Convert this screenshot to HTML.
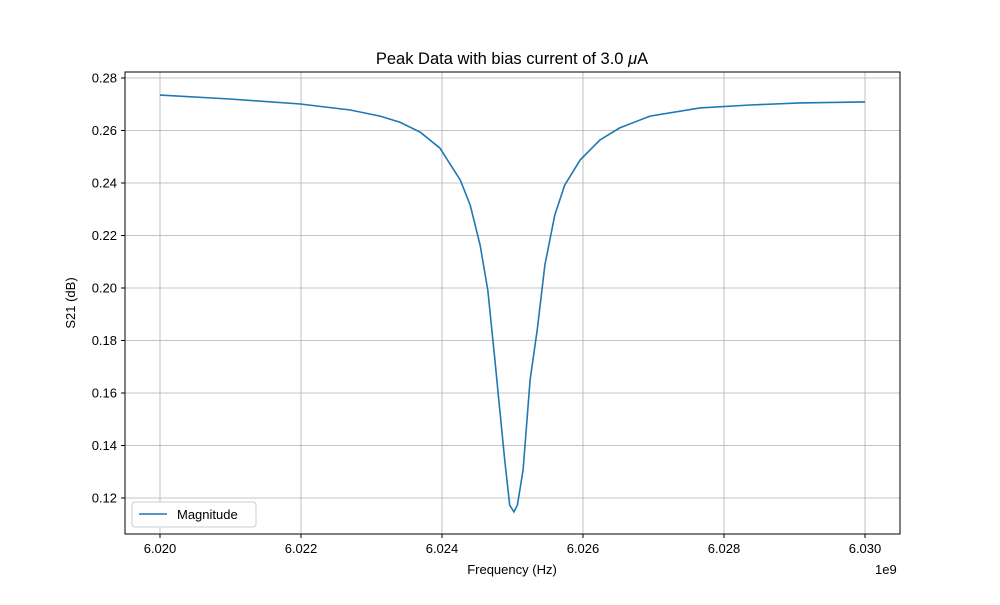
<!DOCTYPE html>
<html><head><meta charset="utf-8"><style>
body{margin:0;background:#fff;}
svg{font-family:"Liberation Sans","DejaVu Sans",sans-serif;}
</style></head><body>
<svg id="chart" width="1000" height="600">
<rect width="1000" height="600" fill="#fff"/>
<text x="512" y="64" font-size="16.5" text-anchor="middle">Peak Data with bias current of 3.0 <tspan font-style="italic">μ</tspan>A</text>
<g id="grid"></g>
<g id="ticks"></g>
<path id="line" fill="none" stroke="#1f77b4" stroke-width="1.6"/>
<rect x="125" y="72" width="775" height="462" fill="none" stroke="#000" stroke-width="1"/>
<text x="512" y="574" font-size="13" text-anchor="middle">Frequency (Hz)</text>
<text x="875" y="574" font-size="13">1e9</text>
<text transform="translate(75,303) rotate(-90)" font-size="13" text-anchor="middle">S21 (dB)</text>
<g>
<rect x="132" y="502" width="124" height="25" rx="3" fill="#fff" stroke="#ccc"/>
<line x1="139" y1="514" x2="167" y2="514" stroke="#1f77b4" stroke-width="1.6"/>
<text x="177" y="519" font-size="13">Magnitude</text>
</g>
</svg>
<script>
const xTicks=[6.020,6.022,6.024,6.026,6.028,6.030];
const yTicks=[0.12,0.14,0.16,0.18,0.20,0.22,0.24,0.26,0.28];
const freqMHz=[0,0.99,1.99,2.70,3.12,3.40,3.69,3.97,4.26,4.40,4.54,4.65,4.75,4.82,4.89,4.96,5.02,5.07,5.15,5.25,5.35,5.46,5.60,5.74,5.96,6.24,6.52,6.95,7.66,8.37,9.08,10];
const s21=[0.2735,0.2720,0.2701,0.2678,0.2655,0.2632,0.2594,0.2533,0.2411,0.2316,0.2164,0.1992,0.1726,0.1535,0.1345,0.1173,0.1147,0.1173,0.1307,0.1650,0.1840,0.2088,0.2278,0.2392,0.2488,0.2564,0.2610,0.2655,0.2686,0.2697,0.2705,0.2709];
const X=v=>160+(v-6.020)/0.001*70.5;
const Y=v=>78+(0.28-v)/0.02*52.5;
const ns="http://www.w3.org/2000/svg";
const grid=document.getElementById('grid'),ticks=document.getElementById('ticks');
function mk(tag,attrs,parent){const e=document.createElementNS(ns,tag);for(const k in attrs)e.setAttribute(k,attrs[k]);parent.appendChild(e);return e;}
xTicks.forEach(t=>{const x=X(t);
const g=mk('line',{x1:x,x2:x,y1:72,y2:534,stroke:'#b0b0b0','stroke-width':0.8},grid);


mk('line',{x1:x,x2:x,y1:534,y2:538,stroke:'#000'},ticks);
const tx=mk('text',{x:x,y:553,'font-size':13,'text-anchor':'middle'},ticks);tx.textContent=t.toFixed(3);

});
yTicks.forEach(t=>{const y=Y(t);
const g=mk('line',{x1:125,x2:900,y1:y,y2:y,stroke:'#b0b0b0','stroke-width':0.8},grid);


mk('line',{x1:121,x2:125,y1:y,y2:y,stroke:'#000'},ticks);
const tx=mk('text',{x:117,y:y+4.5,'font-size':13,'text-anchor':'end'},ticks);tx.textContent=t.toFixed(2);

});
let d='';freqMHz.forEach((f,i)=>{d+=(i?'L':'M')+X(6.020+f/1000).toFixed(1)+','+Y(s21[i]).toFixed(1);});
document.getElementById('line').setAttribute('d',d);
</script>
</body></html>
